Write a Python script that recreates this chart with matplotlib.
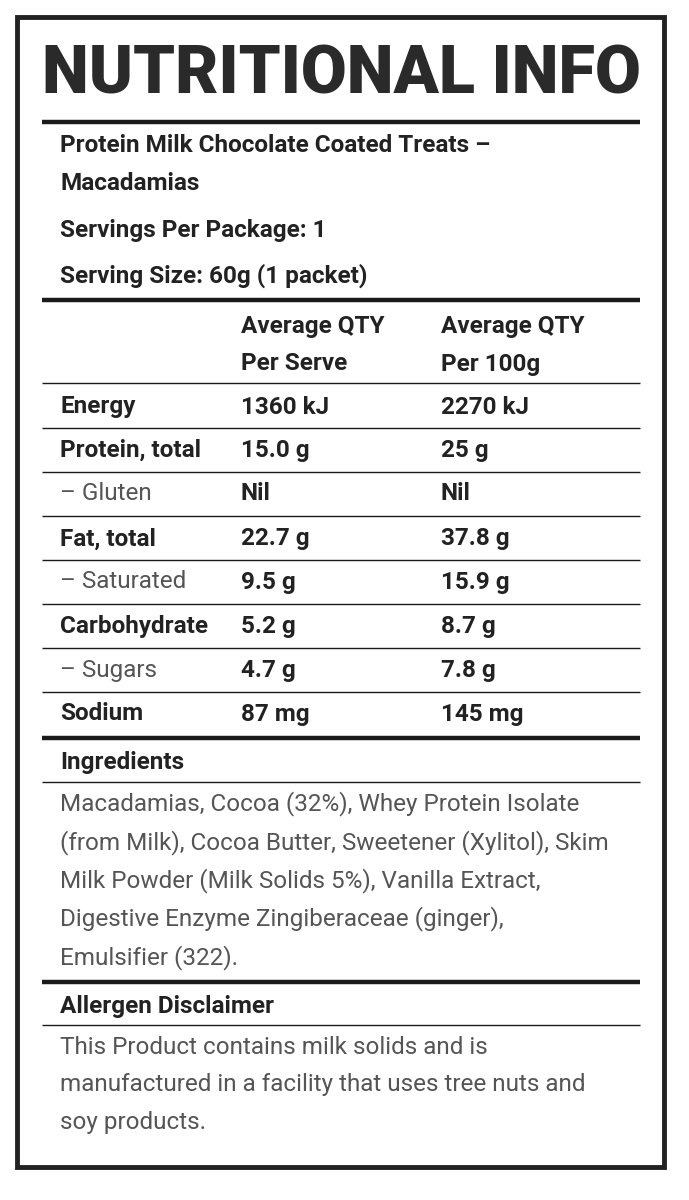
import matplotlib
matplotlib.use("Agg")
import matplotlib.pyplot as plt

title = "NUTRITIONAL INFO"
product = ["Protein Milk Chocolate Coated Treats –", "Macadamias"]
servings = ["Servings Per Package: 1", "Serving Size: 60g (1 packet)"]
headers = [["Average QTY", "Per Serve"], ["Average QTY", "Per 100g"]]
rows = ["Energy", "Protein, total", "– Gluten", "Fat, total", "– Saturated", "Carbohydrate", "– Sugars", "Sodium"]
sub_rows = [False, False, True, False, True, False, True, False]
per_serve = ["1360 kJ", "15.0 g", "Nil", "22.7 g", "9.5 g", "5.2 g", "4.7 g", "87 mg"]
per_100g = ["2270 kJ", "25 g", "Nil", "37.8 g", "15.9 g", "8.7 g", "7.8 g", "145 mg"]
ingredients = ["Macadamias, Cocoa (32%), Whey Protein Isolate",
               "(from Milk), Cocoa Butter, Sweetener (Xylitol), Skim",
               "Milk Powder (Milk Solids 5%), Vanilla Extract,",
               "Digestive Enzyme Zingiberaceae (ginger),",
               "Emulsifier (322)."]
allergen = ["This Product contains milk solids and is",
            "manufactured in a facility that uses tree nuts and",
            "soy products."]

fig = plt.figure(figsize=(6.89, 12), dpi=100)
ax = fig.add_axes([0, 0, 1, 1])
ax.set_xlim(0, 689); ax.set_ylim(1200, 0); ax.axis("off")
F = "Roboto"
dark = "#222222"; grey = "#555555"
fs = 17.5

ax.add_patch(plt.Rectangle((17, 17), 647, 1150, fill=False, lw=3.5, ec="#222222"))
ax.text(341, 75, title, ha="center", va="center", fontsize=48, fontweight="black",
        family=F, color="#2a2a2a")

def hline(y, lw):
    ax.plot([42, 640], [y, y], color="#1a1a1a", lw=lw, solid_capstyle="butt")

for y in [122, 300, 738, 982]:
    hline(y, 3.2)
for y in [383, 428, 472, 516, 560, 604, 648, 692, 782, 1025]:
    hline(y, 1.0)

def t(x, y, s, bold=True, color=dark):
    ax.text(x, y, s, ha="left", va="center", fontsize=fs, family=F,
            fontweight="bold" if bold else "normal", color=color)

t(60, 146, product[0]); t(60, 184, product[1])
t(60, 231, servings[0]); t(60, 276, servings[1])
for i, hx in enumerate([241, 441]):
    t(hx, 326, headers[i][0]); t(hx, 364, headers[i][1])

row_y = [407, 450, 494, 539, 582, 626, 670, 714]
for y, r, sub, a, b in zip(row_y, rows, sub_rows, per_serve, per_100g):
    t(60, y, r, bold=not sub, color=grey if sub else dark)
    t(241, y, a); t(441, y, b)

t(60, 762, "Ingredients")
for i, line in enumerate(ingredients):
    t(60, 804 + i * 38.3, line, bold=False, color=grey)
t(60, 1006, "Allergen Disclaimer")
for i, line in enumerate(allergen):
    t(60, 1047 + i * 38, line, bold=False, color=grey)

fig.savefig("out.png", dpi=100, facecolor="white")
